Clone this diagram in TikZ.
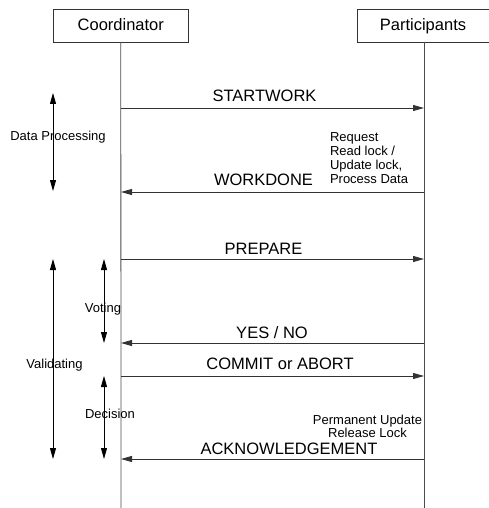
\documentclass[tikz,border=0pt]{standalone}
\usepackage{fontspec}
\setmainfont{Liberation Sans}
\usetikzlibrary{arrows.meta}
\begin{document}
\begin{tikzpicture}[x=1pt,y=-1pt,
  every node/.style={inner sep=0pt,outer sep=0pt},
  actor/.style={draw=black!80,line width=0.8pt,minimum height=33pt,font=\fontsize{16.5}{19}\selectfont},
  lifeline/.style={draw=black!70,line width=0.8pt},
  msg/.style={draw=black!80,line width=0.8pt,-{Triangle[length=11pt,width=6pt]}},
  span/.style={draw=black,line width=0.8pt,{Triangle[length=11pt,width=6pt]}-{Triangle[length=11pt,width=6pt]}},
  biglabel/.style={anchor=base,font=\fontsize{16.5}{19}\selectfont},
  smalllabel/.style={anchor=base,font=\fontsize{13}{14}\selectfont}]
\useasboundingbox (0,0) rectangle (489,508);

% actors and lifelines
\node[actor,minimum width=135pt] (coord) at (120.8,25.7) {};
\node[biglabel] at (120.8,31) {Coordinator};
\node[actor,minimum width=134pt] (part) at (424,25.7) {};
\node[biglabel] at (423,31) {Participants};
\coordinate (cend) at (121,510);
\coordinate (pend) at (424,510);
\draw[lifeline] (coord.south) -- (cend);
\draw[lifeline] (part.south) -- (pend);

% message endpoints on the lifelines
\foreach \n/\y in {1/108,2/192,3/259,4/343,5/376,6/459}{
  \coordinate (c\n) at (121,\y);
  \coordinate (p\n) at (424,\y);
}

% messages
\draw[msg] (c1) -- (p1);
\node[biglabel] (m1) at (264.5,102) {STARTWORK};
\draw[msg] (p2) -- (c2);
\node[biglabel] (m2) at (263.5,185) {WORKDONE};
\draw[msg] (c3) -- (p3);
\node[biglabel] (m3) at (263.5,254) {PREPARE};
\draw[msg] (p4) -- (c4);
\node[biglabel] (m4) at (272,338) {YES / NO};
\draw[msg] (c5) -- (p5);
\node[biglabel] (m5) at (280,369) {COMMIT or ABORT};
\draw[msg] (p6) -- (c6);
\node[biglabel] (m6) at (289,454) {ACKNOWLEDGEMENT};

% participant notes (base anchor sits on the last line)
\node[anchor=base west,align=left,font=\fontsize{13}{14}\selectfont] (note1) at (330,183)
  {Request\\Read lock /\\Update lock,\\Process Data};
\node[anchor=base,align=center,font=\fontsize{13}{13}\selectfont] (note2) at (367.5,437)
  {Permanent Update\\Release Lock};

% phase spans
\coordinate (dp1) at (53,93);   \coordinate (dp2) at (53,191);
\coordinate (va1) at (53,259);  \coordinate (va2) at (53,459);
\coordinate (vo1) at (104,259); \coordinate (vo2) at (104,343);
\coordinate (de1) at (104,376); \coordinate (de2) at (104,459);
\draw[span] (dp1) -- (dp2);
\draw[span] (va1) -- (va2);
\draw[span] (vo1) -- (vo2);
\draw[span] (de1) -- (de2);
\node[smalllabel] (ldp) at (58,140) {Data Processing};
\node[smalllabel] (lva) at (54.5,368) {Validating};
\node[smalllabel] (lvo) at (103,312) {Voting};
\node[smalllabel] (lde) at (110,418) {Decision};
\end{tikzpicture}
\end{document}
